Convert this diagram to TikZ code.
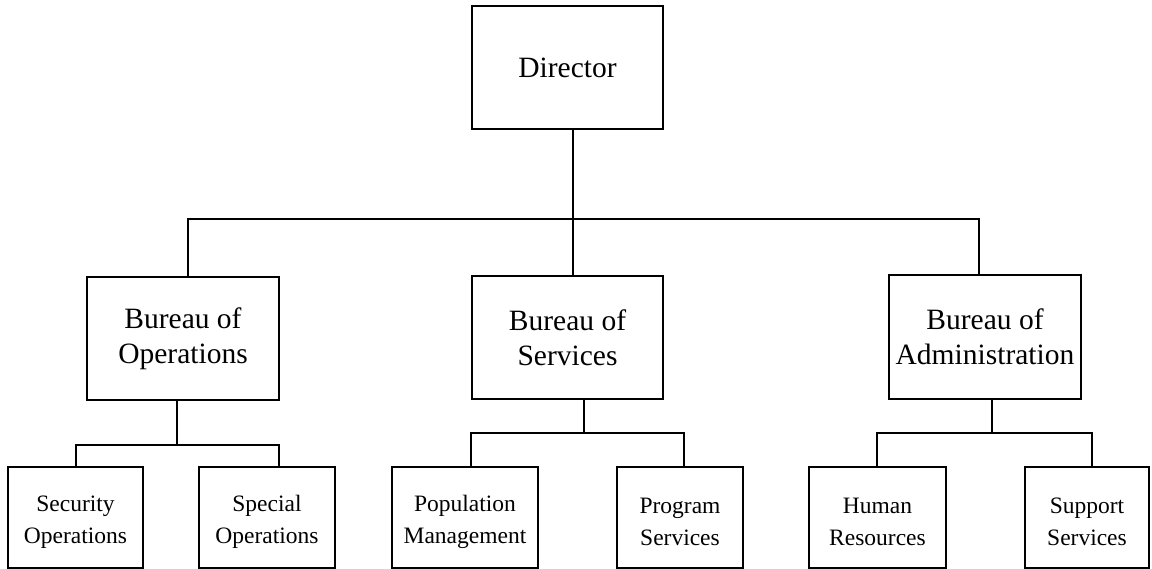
\documentclass[tikz,border=0pt]{standalone}
\usepackage{fontspec}
\setmainfont{Liberation Serif}
\begin{document}
\begin{tikzpicture}[x=1pt,y=-1pt,
  box/.style={draw, line width=1.2pt, align=center, inner sep=0pt},
  big/.style={box, font=\fontsize{29.5}{35}\selectfont},
  smalltext/.style={font=\fontsize{23.5}{32}\selectfont, align=center, inner sep=0pt, yshift=-4.5pt},
  small/.style={box, minimum height=101pt, label={[smalltext]center:#1}},
  conn/.style={line width=1.2pt}]
\useasboundingbox (0,0) rectangle (1152,569);
% top level
\node[big, minimum width=191pt, minimum height=123pt] (dir) at (567.5,67.5) {Director};
% bureaus
\node[big, minimum width=192pt, minimum height=123pt] (ops) at (183,338.5) {Bureau of\\Operations};
\node[big, minimum width=191pt, minimum height=123pt] (srv) at (567.5,337.5) {Bureau of\\Services};
\node[big, minimum width=192pt, minimum height=124pt] (adm) at (985,337) {Bureau of\\Administration};
% bottom level
\node[small={Security\\Operations}, minimum width=135pt] (sec) at (75.5,517.5) {};
\node[small={Special\\Operations}, minimum width=136pt] (spc) at (267,517.5) {};
\node[small={Population\\Management}, minimum width=146pt] (pop) at (465,517.5) {};
\node[small={Program\\Services}, minimum width=126pt] (prg) at (680,517.5) {};
\node[small={Human\\Resources}, minimum width=137pt] (hum) at (877.5,517.5) {};
\node[small={Support\\Services}, minimum width=124pt] (sup) at (1087,517.5) {};
% branch points
\coordinate (t0) at (573,219);
\coordinate (o0) at (177,445);
\coordinate (s0) at (584,433);
\coordinate (a0) at (992,433);
% connectors: director
\draw[conn] (dir.south -| t0) -- (t0);
\draw[conn] (188,0 |- ops.north) -- (188,219) -- (979,219) -- (979,0 |- adm.north);
\draw[conn] (t0) -- (t0 |- srv.north);
% operations
\draw[conn] (ops.south -| o0) -- (o0);
\draw[conn] (sec.north -| 76,0) -- (76,445) -- (279,445) -- (279,0 |- spc.north);
% services
\draw[conn] (srv.south -| s0) -- (s0);
\draw[conn] (pop.north -| 471,0) -- (471,433) -- (684,433) -- (684,0 |- prg.north);
% administration
\draw[conn] (adm.south -| a0) -- (a0);
\draw[conn] (hum.north -| 877,0) -- (877,433) -- (1092,433) -- (1092,0 |- sup.north);
\end{tikzpicture}
\end{document}
